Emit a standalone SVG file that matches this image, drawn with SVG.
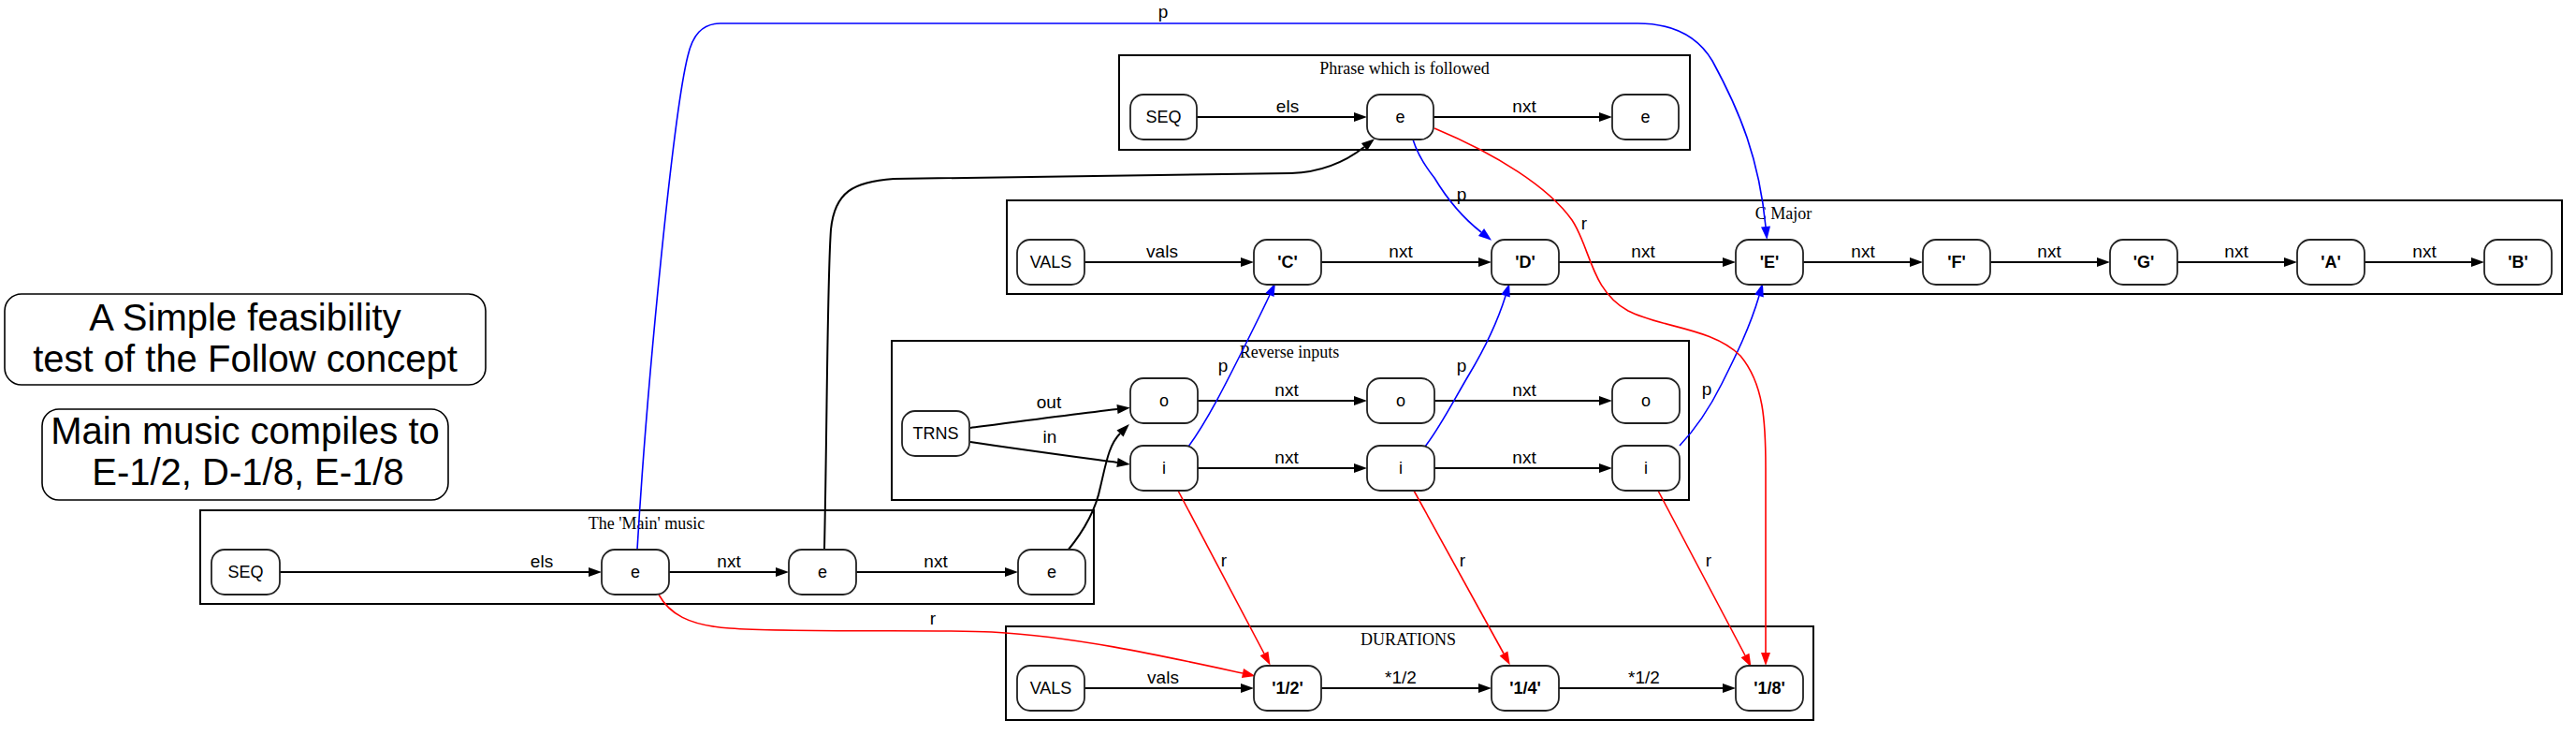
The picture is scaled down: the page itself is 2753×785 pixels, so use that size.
<svg xmlns="http://www.w3.org/2000/svg" width="2753" height="785" viewBox="0 0 2753 785">
<style>
.bg{fill:#fff}
.cl{fill:none;stroke:#000;stroke-width:2}
.ct{font-family:"Liberation Serif",serif;font-size:18px;fill:#000;text-anchor:middle}
.nd{fill:#fff;stroke:#222;stroke-width:1.8}
.nt{font-family:"Liberation Sans",sans-serif;font-size:18px;fill:#000;text-anchor:middle}
.b{font-weight:bold}
.el{font-family:"Liberation Sans",sans-serif;font-size:19px;fill:#000;text-anchor:middle}
.bx{fill:#fff;stroke:#000;stroke-width:1.6}
.bt{font-family:"Liberation Sans",sans-serif;font-size:40px;fill:#000;text-anchor:middle}
.k{fill:none;stroke:#000;stroke-width:2}
.r{fill:none;stroke:#f00;stroke-width:1.6}
.u{fill:none;stroke:#00f;stroke-width:1.6}
</style>
<defs>
<marker id="ak" markerUnits="userSpaceOnUse" markerWidth="14" markerHeight="10" refX="0" refY="5" orient="auto" overflow="visible"><path d="M0,0 L14,5 L0,10 z" fill="#000"/></marker>
<marker id="ar" markerUnits="userSpaceOnUse" markerWidth="14" markerHeight="10" refX="0" refY="5" orient="auto" overflow="visible"><path d="M0,0 L14,5 L0,10 z" fill="#f00"/></marker>
<marker id="ab" markerUnits="userSpaceOnUse" markerWidth="14" markerHeight="10" refX="0" refY="5" orient="auto" overflow="visible"><path d="M0,0 L14,5 L0,10 z" fill="#00f"/></marker>
</defs>
<rect class="bg" x="0" y="0" width="2753" height="785"/>

<g id="title1">
<rect class="bx" x="5" y="314" width="514" height="97" rx="18"/>
<text class="bt" x="262" y="353">A Simple feasibility</text>
<text class="bt" x="262" y="397">test of the Follow concept</text>
</g>
<g id="title2">
<rect class="bx" x="45" y="437" width="434" height="97" rx="18"/>
<text class="bt" x="262" y="474">Main music compiles to</text>
<text class="bt" x="265" y="518">E-1/2, D-1/8, E-1/8</text>
</g>

<g id="cluster_phrase">
<rect class="cl" x="1196" y="59" width="610" height="101"/>
<text class="ct" x="1501" y="79">Phrase which is followed</text>
</g>
<g id="cluster_cmajor">
<rect class="cl" x="1076" y="214" width="1662" height="100"/>
<text class="ct" x="1906" y="234">C Major</text>
</g>
<g id="cluster_reverse">
<rect class="cl" x="953" y="364" width="852" height="170"/>
<text class="ct" x="1378" y="382">Reverse inputs</text>
</g>
<g id="cluster_main">
<rect class="cl" x="214" y="545" width="955" height="100"/>
<text class="ct" x="691" y="565">The 'Main' music</text>
</g>
<g id="cluster_durations">
<rect class="cl" x="1075" y="669" width="863" height="100"/>
<text class="ct" x="1505" y="689">DURATIONS</text>
</g>

<g id="connectors">
<path class="k" d="M1279,125 L1447,125" marker-end="url(#ak)"/>
<path class="k" d="M1532,125 L1709,125" marker-end="url(#ak)"/>
<path class="k" d="M1159,280 L1326,280" marker-end="url(#ak)"/>
<path class="k" d="M1412,280 L1580,280" marker-end="url(#ak)"/>
<path class="k" d="M1666,280 L1841,280" marker-end="url(#ak)"/>
<path class="k" d="M1927,280 L2041,280" marker-end="url(#ak)"/>
<path class="k" d="M2127,280 L2241,280" marker-end="url(#ak)"/>
<path class="k" d="M2327,280 L2441,280" marker-end="url(#ak)"/>
<path class="k" d="M2527,280 L2641,280" marker-end="url(#ak)"/>
<path class="k" d="M1037,457 C1090,450 1150,442 1194,437" marker-end="url(#ak)"/>
<path class="k" d="M1037,472 C1090,480 1150,488 1194,494" marker-end="url(#ak)"/>
<path class="k" d="M1280,428 L1447,428" marker-end="url(#ak)"/>
<path class="k" d="M1533,428 L1709,428" marker-end="url(#ak)"/>
<path class="k" d="M1280,500 L1447,500" marker-end="url(#ak)"/>
<path class="k" d="M1533,500 L1709,500" marker-end="url(#ak)"/>
<path class="k" d="M299,611 L629,611" marker-end="url(#ak)"/>
<path class="k" d="M715,611 L829,611" marker-end="url(#ak)"/>
<path class="k" d="M915,611 L1074,611" marker-end="url(#ak)"/>
<path class="k" d="M1159,735 L1326,735" marker-end="url(#ak)"/>
<path class="k" d="M1412,735 L1580,735" marker-end="url(#ak)"/>
<path class="k" d="M1666,735 L1841,735" marker-end="url(#ak)"/>
<path class="k" d="M881,587 C884,450 884,300 888,245 C892,205 912,194 955,191 L1380,185 C1410,184 1435,175 1458,157" marker-end="url(#ak)"/>
<path class="k" d="M1141,588 C1160,565 1172,540 1176,520 C1182,495 1185,475 1197,463" marker-end="url(#ak)"/>
<path class="u" d="M681,587 C692,400 720,120 735,60 C740,38 750,25 770,25 L1750,25 C1790,25 1815,40 1830,65 C1860,120 1880,170 1887,242" marker-end="url(#ab)"/>
<path class="u" d="M1510,149 C1515,165 1525,180 1533,190 C1545,210 1560,230 1583,248" marker-end="url(#ab)"/>
<path class="u" d="M1270,477 C1290,450 1310,410 1330,370 C1340,350 1350,330 1357,315" marker-end="url(#ab)"/>
<path class="u" d="M1523,477 C1540,455 1555,425 1570,400 C1585,375 1600,345 1609,316" marker-end="url(#ab)"/>
<path class="u" d="M1795,476 C1815,455 1830,430 1840,410 C1855,380 1870,350 1880,316" marker-end="url(#ab)"/>
<path class="r" d="M1533,137 C1600,165 1655,200 1680,235 C1700,265 1700,310 1740,332 C1775,350 1830,350 1860,380 C1885,410 1887,450 1887,500 L1887,697" marker-end="url(#ar)"/>
<path class="r" d="M1259,524 L1351,698" marker-end="url(#ar)"/>
<path class="r" d="M1511,524 L1607,698" marker-end="url(#ar)"/>
<path class="r" d="M1772,524 L1865,700" marker-end="url(#ar)"/>
<path class="r" d="M704,635 C715,655 735,668 780,671 C850,676 1000,672 1060,675 C1150,680 1240,700 1328,719" marker-end="url(#ar)"/>
<text class="el" x="1376" y="120">els</text>
<text class="el" x="1629" y="120">nxt</text>
<text class="el" x="1242" y="275">vals</text>
<text class="el" x="1497" y="275">nxt</text>
<text class="el" x="1756" y="275">nxt</text>
<text class="el" x="1991" y="275">nxt</text>
<text class="el" x="2190" y="275">nxt</text>
<text class="el" x="2390" y="275">nxt</text>
<text class="el" x="2591" y="275">nxt</text>
<text class="el" x="1121" y="436">out</text>
<text class="el" x="1122" y="473">in</text>
<text class="el" x="1375" y="423">nxt</text>
<text class="el" x="1629" y="423">nxt</text>
<text class="el" x="1375" y="495">nxt</text>
<text class="el" x="1629" y="495">nxt</text>
<text class="el" x="579" y="606">els</text>
<text class="el" x="779" y="606">nxt</text>
<text class="el" x="1000" y="606">nxt</text>
<text class="el" x="1243" y="730">vals</text>
<text class="el" x="1497" y="730">*1/2</text>
<text class="el" x="1757" y="730">*1/2</text>
<text class="el" x="1243" y="19">p</text>
<text class="el" x="1562" y="214">p</text>
<text class="el" x="1307" y="397">p</text>
<text class="el" x="1562" y="397">p</text>
<text class="el" x="1824" y="422">p</text>
<text class="el" x="1693" y="245">r</text>
<text class="el" x="1308" y="605">r</text>
<text class="el" x="1563" y="605">r</text>
<text class="el" x="1826" y="605">r</text>
<text class="el" x="997" y="667">r</text>
</g>

<g id="ph_seq"><rect class="nd" x="1208" y="101" width="71" height="48" rx="14"/><text class="nt" x="1243.5" y="131">SEQ</text></g>
<g id="ph_e1"><rect class="nd" x="1461" y="101" width="71" height="48" rx="14"/><text class="nt" x="1496.5" y="131">e</text></g>
<g id="ph_e2"><rect class="nd" x="1723" y="101" width="71" height="48" rx="14"/><text class="nt" x="1758.5" y="131">e</text></g>

<g id="cm_vals"><rect class="nd" x="1087" y="256" width="72" height="48" rx="14"/><text class="nt" x="1123" y="286">VALS</text></g>
<g id="cm_c"><rect class="nd" x="1340" y="256" width="72" height="48" rx="14"/><text class="nt b" x="1376" y="286">'C'</text></g>
<g id="cm_d"><rect class="nd" x="1594" y="256" width="72" height="48" rx="14"/><text class="nt b" x="1630" y="286">'D'</text></g>
<g id="cm_e"><rect class="nd" x="1855" y="256" width="72" height="48" rx="14"/><text class="nt b" x="1891" y="286">'E'</text></g>
<g id="cm_f"><rect class="nd" x="2055" y="256" width="72" height="48" rx="14"/><text class="nt b" x="2091" y="286">'F'</text></g>
<g id="cm_g"><rect class="nd" x="2255" y="256" width="72" height="48" rx="14"/><text class="nt b" x="2291" y="286">'G'</text></g>
<g id="cm_a"><rect class="nd" x="2455" y="256" width="72" height="48" rx="14"/><text class="nt b" x="2491" y="286">'A'</text></g>
<g id="cm_b"><rect class="nd" x="2655" y="256" width="72" height="48" rx="14"/><text class="nt b" x="2691" y="286">'B'</text></g>

<g id="rv_trns"><rect class="nd" x="964" y="439" width="72" height="48" rx="14"/><text class="nt" x="1000" y="469">TRNS</text></g>
<g id="rv_o1"><rect class="nd" x="1208" y="404" width="72" height="48" rx="14"/><text class="nt" x="1244" y="434">o</text></g>
<g id="rv_o2"><rect class="nd" x="1461" y="404" width="72" height="48" rx="14"/><text class="nt" x="1497" y="434">o</text></g>
<g id="rv_o3"><rect class="nd" x="1723" y="404" width="72" height="48" rx="14"/><text class="nt" x="1759" y="434">o</text></g>
<g id="rv_i1"><rect class="nd" x="1208" y="476" width="72" height="48" rx="14"/><text class="nt" x="1244" y="506">i</text></g>
<g id="rv_i2"><rect class="nd" x="1461" y="476" width="72" height="48" rx="14"/><text class="nt" x="1497" y="506">i</text></g>
<g id="rv_i3"><rect class="nd" x="1723" y="476" width="72" height="48" rx="14"/><text class="nt" x="1759" y="506">i</text></g>

<g id="mn_seq"><rect class="nd" x="226" y="587" width="73" height="48" rx="14"/><text class="nt" x="262.5" y="617">SEQ</text></g>
<g id="mn_e1"><rect class="nd" x="643" y="587" width="72" height="48" rx="14"/><text class="nt" x="679" y="617">e</text></g>
<g id="mn_e2"><rect class="nd" x="843" y="587" width="72" height="48" rx="14"/><text class="nt" x="879" y="617">e</text></g>
<g id="mn_e3"><rect class="nd" x="1088" y="587" width="72" height="48" rx="14"/><text class="nt" x="1124" y="617">e</text></g>

<g id="du_vals"><rect class="nd" x="1087" y="711" width="72" height="48" rx="14"/><text class="nt" x="1123" y="741">VALS</text></g>
<g id="du_12"><rect class="nd" x="1340" y="711" width="72" height="48" rx="14"/><text class="nt b" x="1376" y="741">'1/2'</text></g>
<g id="du_14"><rect class="nd" x="1594" y="711" width="72" height="48" rx="14"/><text class="nt b" x="1630" y="741">'1/4'</text></g>
<g id="du_18"><rect class="nd" x="1855" y="711" width="72" height="48" rx="14"/><text class="nt b" x="1891" y="741">'1/8'</text></g>
</svg>
